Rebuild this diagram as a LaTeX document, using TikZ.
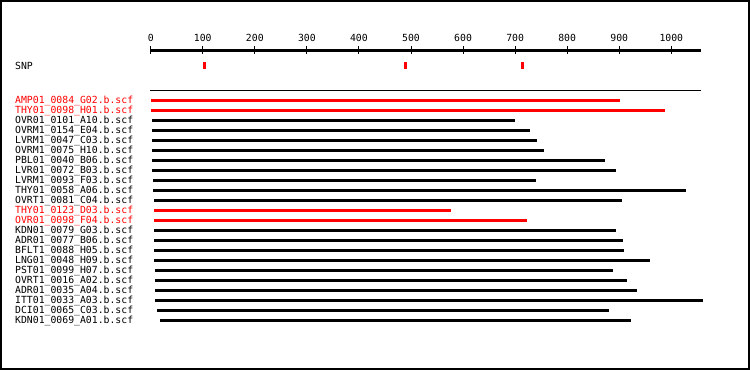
\documentclass[tikz,border=0pt]{standalone}
\usepackage{fontspec}
\setmonofont{DejaVu Sans Mono}
\definecolor{hitred}{RGB}{255,0,0}
\begin{document}
\begin{tikzpicture}[x=1pt,y=-1pt,
  lbl/.style={font=\ttfamily\fontsize{9.8}{10}\selectfont, inner sep=0pt, anchor=base west},
  ticklbl/.style={font=\ttfamily\fontsize{9.8}{10}\selectfont, inner sep=0pt, anchor=base},
  bar/.style={line width=2.2pt},
  snpmark/.style={fill=hitred, draw=none}]
\useasboundingbox (0,0) rectangle (750,370);
\fill[white] (0,0) rectangle (750,370);
\draw[line width=2pt] (1,1) rectangle (749,369);
% axis
\coordinate (ax0) at (150.7,50.3);
\coordinate (ax1) at (700.7,50.3);
\draw[line width=3pt] (ax0) -- (ax1);
\foreach \v [count=\k] in {0,100,...,1000} {
  \coordinate (t\k) at ({150.7+0.5206*\v},50.3);
  \draw[line width=1pt] ([yshift=-3.3pt]t\k) -- ([yshift=4.7pt]t\k);
  \node[ticklbl] (tl\k) at ({150.7+0.5206*\v},41.7) {\v};
}
% SNP row
\node[lbl] (snp) at (15,69.5) {SNP};
\foreach \x [count=\k] in {204.3,405.7,522.7} {
  \fill[snpmark] (\x-1.5,62) rectangle (\x+1.5,68.5);
}
\coordinate (sep0) at (150,90.3);
\coordinate (sep1) at (701,90.3);
\draw[line width=1pt] (sep0) -- (sep1);
% rows
\foreach \s/\e/\c/\t [count=\i] in {
 151/620/hitred/AMP01\_0084\_G02.b.scf,
 151/665/hitred/THY01\_0098\_H01.b.scf,
 152/515/black/OVR01\_0101\_A10.b.scf,
 152/530/black/OVRM1\_0154\_E04.b.scf,
 152/537/black/LVRM1\_0047\_C03.b.scf,
 152/544/black/OVRM1\_0075\_H10.b.scf,
 152/605/black/PBL01\_0040\_B06.b.scf,
 152/616/black/LVR01\_0072\_B03.b.scf,
 153/536/black/LVRM1\_0093\_F03.b.scf,
 153/686/black/THY01\_0058\_A06.b.scf,
 154/622/black/OVRT1\_0081\_C04.b.scf,
 154/451/hitred/THY01\_0123\_D03.b.scf,
 154/527/hitred/OVR01\_0098\_F04.b.scf,
 154/616/black/KDN01\_0079\_G03.b.scf,
 154/623/black/ADR01\_0077\_B06.b.scf,
 154/624/black/BFLT1\_0088\_H05.b.scf,
 154/650/black/LNG01\_0048\_H09.b.scf,
 155/613/black/PST01\_0099\_H07.b.scf,
 155/627/black/OVRT1\_0016\_A02.b.scf,
 155/637/black/ADR01\_0035\_A04.b.scf,
 155/703/black/ITT01\_0033\_A03.b.scf,
 157/609/black/DCI01\_0065\_C03.b.scf,
 160/631/black/KDN01\_0069\_A01.b.scf} {
  \node[lbl, text=\c] (r\i) at (15,{90+10*\i+3.5}) {\t};
  \coordinate (bs\i) at (\s,{90.5+10*\i});
  \coordinate (be\i) at (\e,{90.5+10*\i});
  \draw[bar, draw=\c] (bs\i) -- (be\i);
}
\end{tikzpicture}
\end{document}
